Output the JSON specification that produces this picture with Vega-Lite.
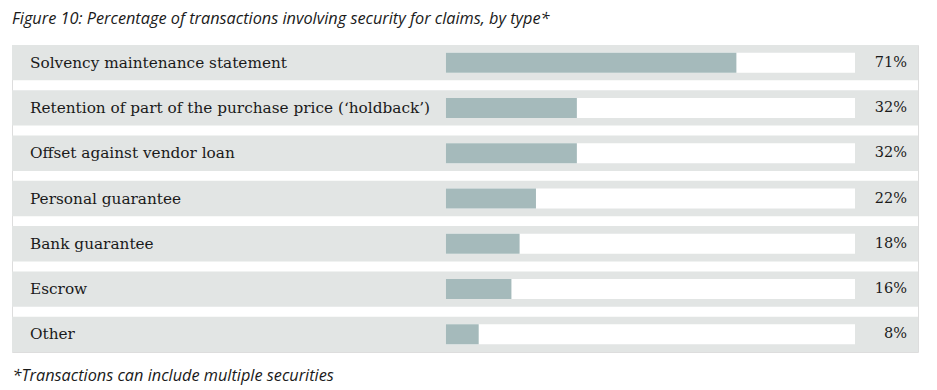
{
  "$schema": "https://vega.github.io/schema/vega-lite/v6.json",
  "width": 906,
  "height": 307,
  "autosize": {"type": "none"},
  "padding": {"left": 12, "top": 45, "right": 19, "bottom": 38},
  "background": "white",
  "title": {
    "text": "Figure 10: Percentage of transactions involving security for claims, by type*",
    "anchor": "start",
    "frame": "group",
    "font": "Open Sans",
    "fontStyle": "italic",
    "fontWeight": "normal",
    "fontSize": 16.3,
    "color": "#1a1a1a",
    "offset": 18
  },
  "data": {
    "values": [
      {"label": "Solvency maintenance statement", "v": 0.71},
      {"label": "Retention of part of the purchase price (‘holdback’)", "v": 0.32},
      {"label": "Offset against vendor loan", "v": 0.32},
      {"label": "Personal guarantee", "v": 0.22},
      {"label": "Bank guarantee", "v": 0.18},
      {"label": "Escrow", "v": 0.16},
      {"label": "Other", "v": 0.08}
    ]
  },
  "encoding": {
    "y": {
      "field": "label",
      "type": "nominal",
      "sort": null,
      "axis": null,
      "scale": {"paddingInner": 0.22, "paddingOuter": 0}
    }
  },
  "layer": [
    {
      "mark": {"type": "bar", "color": "#e2e5e4"},
      "encoding": {
        "x": {
          "datum": -1.061,
          "type": "quantitative",
          "scale": {"domain": [-1.061, 1.154], "nice": false, "zero": false},
          "axis": {
            "title": "*Transactions can include multiple securities",
            "titleAnchor": "start",
            "titleFont": "Open Sans",
            "titleFontStyle": "italic",
            "titleFontWeight": "normal",
            "titleFontSize": 16.3,
            "titleColor": "#1a1a1a",
            "titlePadding": 15,
            "labels": false,
            "ticks": false,
            "domain": false,
            "grid": false
          }
        },
        "x2": {"datum": 1.154}
      }
    },
    {
      "mark": {"type": "bar", "color": "#ffffff", "size": 20},
      "encoding": {
        "x": {"datum": 0, "type": "quantitative"},
        "x2": {"datum": 1}
      }
    },
    {
      "mark": {"type": "bar", "color": "#a5babb", "size": 20},
      "encoding": {
        "x": {"field": "v", "type": "quantitative"},
        "x2": {"datum": 0}
      }
    },
    {
      "mark": {
        "type": "text",
        "align": "left",
        "baseline": "middle",
        "font": "DejaVu Serif",
        "fontSize": 15.3,
        "color": "#1a1a1a"
      },
      "encoding": {
        "x": {"datum": -1.017, "type": "quantitative"},
        "text": {"field": "label"}
      }
    },
    {
      "mark": {
        "type": "text",
        "align": "right",
        "baseline": "middle",
        "font": "DejaVu Serif",
        "fontSize": 14.5,
        "color": "#1a1a1a"
      },
      "encoding": {
        "x": {"datum": 1.127, "type": "quantitative"},
        "text": {"field": "v", "format": ".0%"}
      }
    }
  ]
}
